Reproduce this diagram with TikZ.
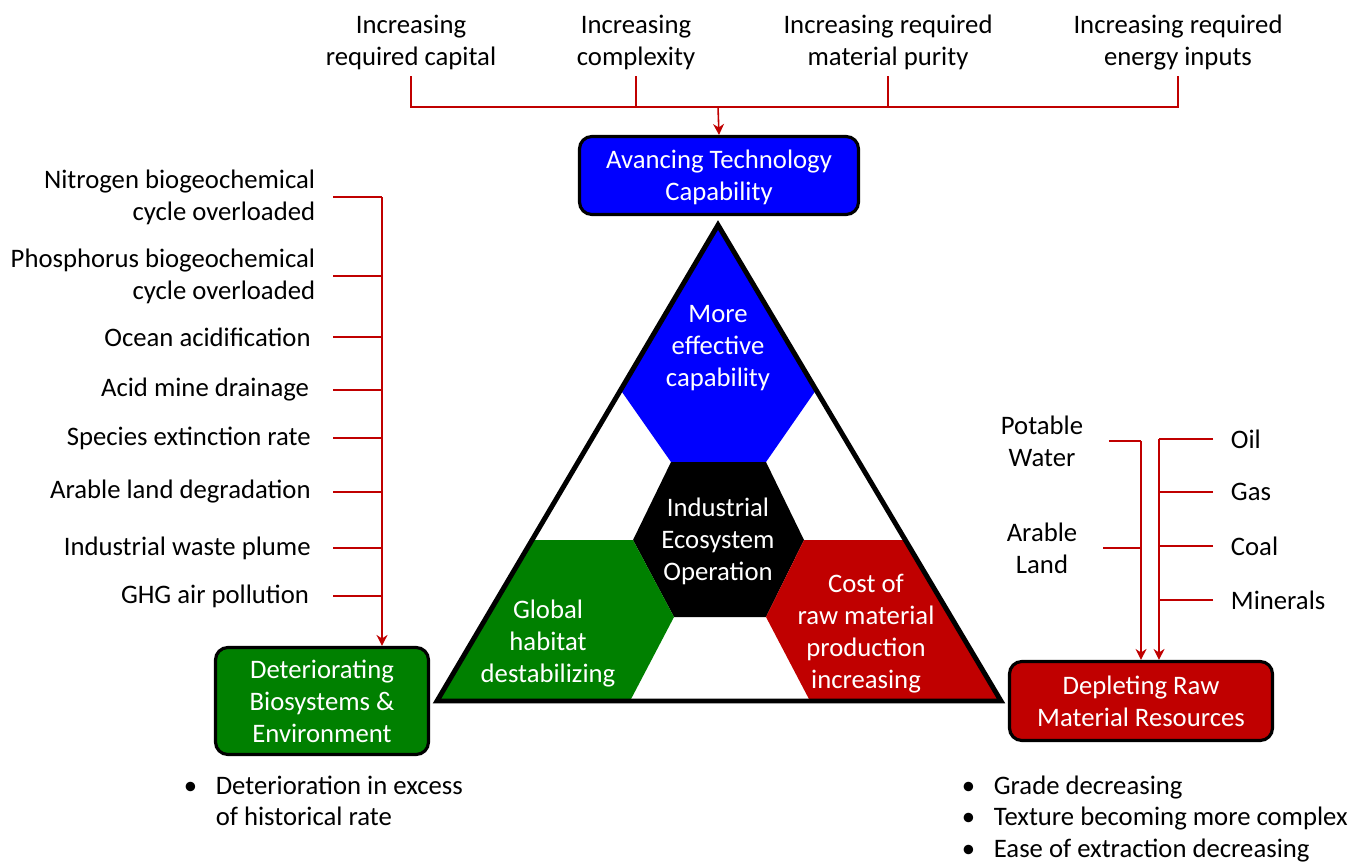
\documentclass[tikz,border=0pt]{standalone}
\usepackage{fontspec}
\setmainfont{Carlito}
\usepackage{xcolor}
\definecolor{cTech}{HTML}{0000FF}
\definecolor{cBio}{HTML}{008000}
\definecolor{cRes}{HTML}{C00000}
\definecolor{cLink}{HTML}{C00000}
\usepackage{tikz}
\usetikzlibrary{arrows.meta,calc}
\tikzset{
  node-box/.style={draw=black,line width=1.8pt,rounded corners=7pt,
    text=white,align=center,inner sep=0pt,text depth=0pt},
  node-label/.style={align=center,inner xsep=2pt,inner ysep=6pt,text depth=0pt},
  node-item/.style={align=right,anchor=east,inner ysep=2pt,inner xsep=10pt},
  node-feed/.style={anchor=west,inner ysep=2pt,inner xsep=10pt},
  node-inner/.style={text=white,align=center,text depth=0pt},
  node-note/.style={anchor=base west,inner sep=0pt},
  link/.style={draw=cLink,line width=0.9pt},
  arrow/.style={-{Stealth[length=2.2mm,width=2.2mm]},line width=0.9pt,draw=cLink},
}
\newcommand{\bul}{\makebox[0.64cm][l]{\textbullet}}

\begin{document}
\begin{tikzpicture}[x=0.02cm,y=-0.02cm,font=\fontsize{15.2pt}{18.2pt}\selectfont]
  \useasboundingbox (0,0) rectangle (1369,865);

  % triangle and its regions
  \coordinate (apex)  at (718,225);
  \coordinate (baseL) at (437,701);
  \coordinate (baseR) at (1001,701);
  \fill[cTech] (apex) -- (620.6,390) -- (671,462) -- (766,462) -- (816,390) -- cycle;
  \fill[black] (671,462) -- (766,462) -- (804,540) -- (766,617) -- (674,617) -- (633,540) -- cycle;
  \fill[cBio] (532,540) -- (633,540) -- (674,617) -- (630,701) -- (baseL) -- cycle;
  \fill[cRes] (804,540) -- (905.3,540) -- (baseR) -- (810,701) -- (766,617) -- cycle;
  \draw[line width=2.8pt] (apex) -- (baseL) -- (baseR) -- cycle;

  \node[node-inner] (capab)   at (718,346) {More\\effective\\capability};
  \node[node-inner] (core)    at (718,539) {Industrial\\Ecosystem\\Operation};
  \node[node-inner] (habitat) at (548,641) {Global\\habitat\\destabilizing};
  \node[node-inner] (cost)    at (866,631) {Cost of\\raw material\\production\\increasing};

  % corner boxes
  \node[node-box,fill=cTech,minimum width=5.58cm,minimum height=1.56cm] (tech) at (719,175.5) {Avancing Technology\\Capability};
  \node[node-box,fill=cBio,minimum width=4.26cm,minimum height=2.14cm] (bio) at (322,701) {Deteriorating\\Biosystems \&\\Environment};
  \node[node-box,fill=cRes,minimum width=5.26cm,minimum height=1.58cm] (dep) at (1141,701) {Depleting Raw\\Material Resources};

  % top drivers
  \node[node-label] (capital) at (411,40)  {Increasing\\required capital};
  \node[node-label] (cplx)    at (636,40)  {Increasing\\complexity};
  \node[node-label] (purity)  at (888,40)  {Increasing required\\material purity};
  \node[node-label] (energy)  at (1178,40) {Increasing required\\energy inputs};
  \coordinate (bar) at (718,107);
  \draw[link] (capital.south) -- (capital.south |- bar) -- (energy.south |- bar) -- (energy.south);
  \draw[link] (cplx.south) -- (cplx.south |- bar);
  \draw[link] (purity.south) -- (purity.south |- bar);
  \draw[arrow] (bar) -- (tech.north);

  % environmental effects
  \node[node-item] (nitro)   at (333,197) {Nitrogen biogeochemical\\cycle overloaded};
  \node[node-item] (phos)    at (333,276) {Phosphorus biogeochemical\\cycle overloaded};
  \node[node-item] (ocean)   at (333,337) {Ocean acidification\,};
  \node[node-item] (acid)    at (333,390) {Acid mine drainage\ };
  \node[node-item] (species) at (333,438) {Species extinction rate\,};
  \node[node-item] (arable)  at (333,492) {Arable land degradation\,};
  \node[node-item] (waste)   at (333,548) {Industrial waste plume\,};
  \node[node-item] (ghg)     at (333,596) {GHG air pollution\ };
  \coordinate (trunk) at (382,197);
  \draw[link] (nitro.east) -- (trunk);
  \draw[link] (phos.east) -- (phos.east -| trunk);
  \draw[link] (ocean.east) -- (ocean.east -| trunk);
  \draw[link] (acid.east) -- (acid.east -| trunk);
  \draw[link] (species.east) -- (species.east -| trunk);
  \draw[link] (arable.east) -- (arable.east -| trunk);
  \draw[link] (waste.east) -- (waste.east -| trunk);
  \draw[link] (ghg.east) -- (ghg.east -| trunk);
  \draw[arrow] (trunk) -- (trunk |- bio.north);

  % resources
  \node[node-label,inner xsep=14.5pt] (water) at (1042,441) {Potable\\Water};
  \node[node-label,inner xsep=14.5pt] (land)  at (1042,548) {Arable\\Land};
  \draw[link] (water.east) -- (water.east -| dep.north);
  \draw[link] (land.east) -- (land.east -| dep.north);
  \draw[arrow] (water.east -| dep.north) -- (dep.north);

  \node[node-feed] (oil)     at (1213,439) {Oil};
  \node[node-feed] (gas)     at (1213,492) {Gas};
  \node[node-feed] (coal)    at (1213,546) {Coal};
  \node[node-feed] (mineral) at (1213,600) {Minerals};
  \coordinate (ftrunk) at (1159,439);
  \draw[link] (oil.west) -- (ftrunk);
  \draw[link] (gas.west) -- (gas.west -| ftrunk);
  \draw[link] (coal.west) -- (coal.west -| ftrunk);
  \draw[link] (mineral.west) -- (mineral.west -| ftrunk);
  \draw[arrow] (ftrunk) -- (ftrunk |- dep.north);

  % notes
  \node[node-note] (bionote) at (183.5,794) {\begin{tabular}[t]{@{}l@{}l@{}}
    \bul & Deterioration in excess\\ & of historical rate\end{tabular}};
  \node[node-note] (depnote) at (961.5,794) {\begin{tabular}[t]{@{}l@{}l@{}}
    \bul & Grade decreasing\\ \bul & Texture becoming more complex\\
    \bul & Ease of extraction decreasing\end{tabular}};
\end{tikzpicture}
\end{document}
